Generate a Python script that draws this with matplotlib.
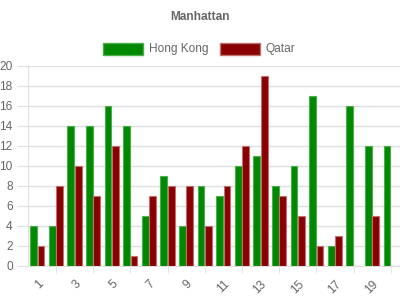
import numpy as np
import matplotlib
matplotlib.use('Agg')
import matplotlib.pyplot as plt
from matplotlib.patches import Rectangle

plt.rcParams['font.family'] = ['Liberation Sans', 'DejaVu Sans']

categories = list(range(1, 21))
hong_kong = [4, 4, 14, 14, 16, 14, 5, 9, 4, 8, 7, 10, 11, 8, 10, 17, 2, 16, 12, 12]
qatar = [2, 8, 10, 7, 12, 1, 7, 8, 8, 4, 8, 12, 19, 7, 5, 2, 3, 0, 5, 0]

txt = '#666666'
fig = plt.figure(figsize=(4, 3), dpi=100)
ax = fig.add_axes([0.07, 0.1143, 0.93, 0.666])

x = np.array(categories)
ax.bar(x - 0.2, hong_kong, width=0.36, color='#008800', edgecolor='#4cae4c', linewidth=0.8, zorder=3)
ax.bar(x + 0.2, qatar, width=0.36, color='#880000', edgecolor='#c07070', linewidth=0.8, zorder=3)

ax.set_xlim(0.5, 20.5)
ax.set_ylim(0, 20)
ax.set_yticks(range(0, 21, 2))
ax.tick_params(axis='y', length=8, color='#e0e0e0', labelsize=8.6, labelcolor=txt, pad=3)
ax.yaxis.grid(True, color='#e0e0e0', linewidth=1, zorder=0)

odd = categories[0::2]
ax.set_xticks(odd)
ax.set_xticklabels([str(c) for c in odd], rotation=45, ha='right', rotation_mode='anchor')
ax.set_xticks(categories[1::2], minor=True)
ax.tick_params(axis='x', which='major', length=0, labelsize=8.6, labelcolor=txt, pad=9)
ax.tick_params(axis='x', which='minor', length=5, color='#e0e0e0')

for s in ['top', 'right']:
    ax.spines[s].set_visible(False)
ax.spines['left'].set_color('#e0e0e0')
ax.spines['bottom'].set_color('#e0e0e0')

fig.text(0.5, 0.943, 'Manhattan', ha='center', va='center', fontsize=8.6,
         fontweight='bold', color=txt)

# legend
items = [('Hong Kong', '#008800', '#4cae4c', 103), ('Qatar', '#880000', '#c07070', 220)]
for name, fc, ec, px in items:
    fig.patches.append(Rectangle((px / 400, (300 - 55) / 300), 40 / 400, 12 / 300,
                                 facecolor=fc, edgecolor=ec, linewidth=1,
                                 transform=fig.transFigure, figure=fig))
    fig.text((px + 46) / 400, (300 - 49) / 300, name, ha='left', va='center',
             fontsize=8.6, color=txt)

fig.savefig('out.png', dpi=100)
